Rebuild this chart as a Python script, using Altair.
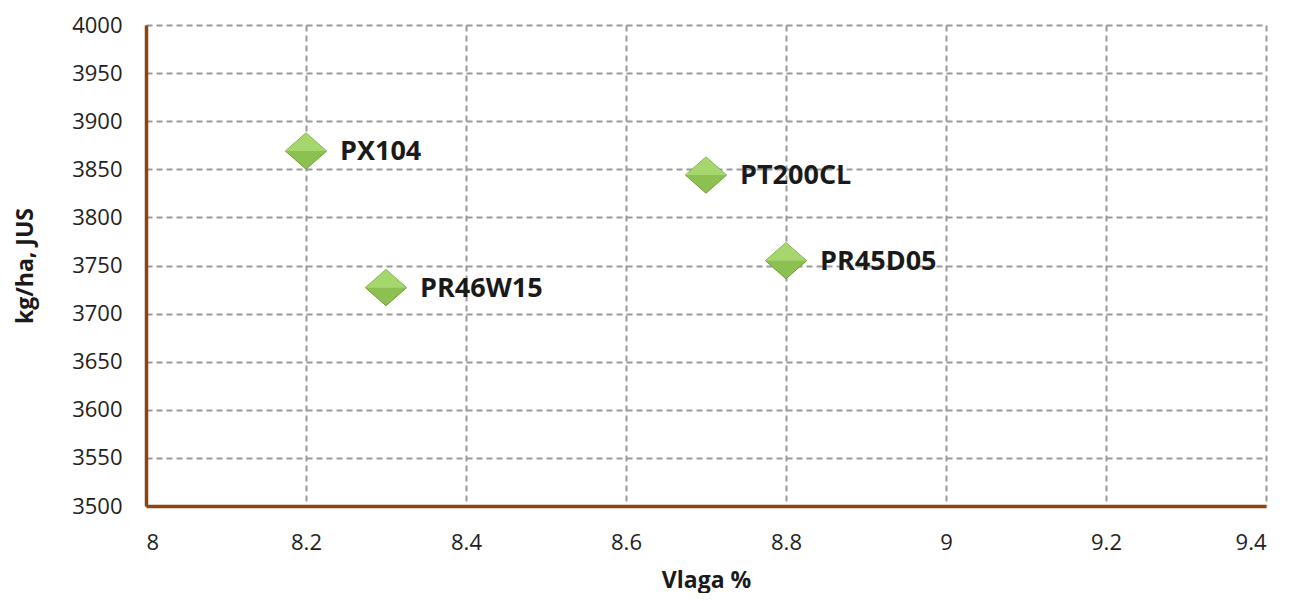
import altair as alt
import pandas as pd

names = ["PX104", "PR46W15", "PT200CL", "PR45D05"]
vlaga = [8.2, 8.3, 8.7, 8.8]
yield_kg = [3869, 3727, 3844, 3755]

df = pd.DataFrame({"name": names, "vlaga": vlaga, "yield": yield_kg})

FONT = "Open Sans"
x_ticks = [8.0, 8.2, 8.4, 8.6, 8.8, 9.0, 9.2, 9.4]
y_ticks = list(range(3500, 4001, 50))

x = alt.X("vlaga:Q", title="Vlaga %",
          scale=alt.Scale(domain=[8, 9.4], nice=False, zero=False),
          axis=alt.Axis(values=x_ticks, format=".1~f", grid=True, ticks=False,
                        labelPadding=26, titlePadding=16))
y = alt.Y("yield:Q", title="kg/ha, JUS",
          scale=alt.Scale(domain=[3500, 4000], nice=False, zero=False),
          axis=alt.Axis(values=y_ticks, format="d", grid=True, ticks=False,
                        labelPadding=24, titlePadding=34))

base = alt.Chart(df).encode(x=x, y=y)

points = base.mark_point(
    shape="M-1,0L0,-0.88L1,0L0,0.88Z", size=1700, filled=True,
    fill="#8cc152", stroke="#6f9e3a", strokeWidth=1, opacity=1
)
highlight = base.mark_point(
    shape="M-1,0L0,-0.88L1,0L0,0Z", size=1700, filled=True,
    fill="#a6d66e", strokeWidth=0, opacity=1
)
labels = base.mark_text(
    align="left", baseline="middle", dx=34, dy=1,
    font=FONT, fontSize=27, fontWeight="bold", color="#1a1a1a"
).encode(text="name:N")

chart = (points + highlight + labels).properties(
    width=1120, height=481,
    autosize=alt.AutoSizeParams(type="none"),
    padding={"left": 138, "top": 17, "right": 20, "bottom": 87},
    background="white",
).configure_axis(
    labelFont=FONT, labelFontSize=22, labelColor="#222222",
    titleFont=FONT, titleFontSize=23, titleFontWeight="bold", titleColor="#1a1a1a",
    gridColor="#9a9a9a", gridDash=[6, 4], gridWidth=2,
    domainColor="#8b4513", domainWidth=3.5,
).configure_view(stroke=None)

chart.save("out.html", embed_options={"renderer": "svg", "actions": False})
